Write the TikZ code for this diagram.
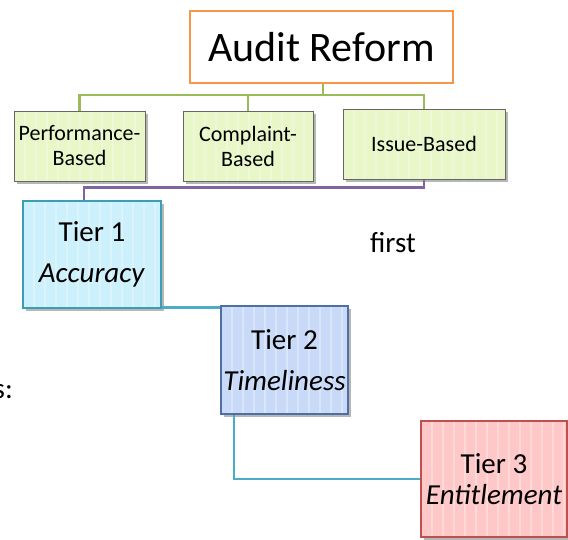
\documentclass[tikz,border=0pt]{standalone}
\usepackage{fontspec}
\setmainfont{Carlito}
\usetikzlibrary{shadows}
\definecolor{orangeb}{HTML}{F79646}
\definecolor{greenl}{HTML}{9BBB59}
\definecolor{purplel}{HTML}{8064A2}
\definecolor{cyanl}{HTML}{4BACC6}
\definecolor{greenf}{HTML}{E8F6C8}
\definecolor{tonef}{HTML}{CCF0FC}
\definecolor{ttwof}{HTML}{C9DAF8}
\definecolor{tthreef}{HTML}{FFC8C8}
\definecolor{tonedraw}{HTML}{3D9DB3}
\definecolor{ttwodraw}{HTML}{4F6FA0}
\definecolor{tthreedraw}{HTML}{C0504D}
\tikzset{
  stripes/.style={path picture={
    \foreach \i in {1,...,16}
      \draw[white,opacity=0.3,line width=2.5pt]
        ([xshift=\i*11pt]path picture bounding box.south west) --
        ([xshift=\i*11pt]path picture bounding box.north west);}},
  shad/.style={drop shadow={shadow xshift=3pt,shadow yshift=-3pt,opacity=0.4,fill=black!70}},
  catbox/.style={draw=gray!80!black,line width=1pt,fill=greenf,stripes,shad,
    align=center,inner sep=0pt,font=\fontsize{22}{25}\selectfont},
  tierbox/.style={line width=1.5pt,stripes,shad,align=center,inner sep=0pt,
    font=\fontsize{29}{41}\selectfont},
  gline/.style={draw=greenl,line width=2.6pt},
  pline/.style={draw=purplel,line width=2.6pt},
  cline/.style={draw=cyanl,line width=2.6pt},
}
\begin{document}
\begin{tikzpicture}[x=1pt,y=-1pt]
\useasboundingbox (0,0) rectangle (568,539);
\node[draw=orangeb,line width=2pt,fill=white,minimum width=263pt,minimum height=72pt,
  inner sep=0pt,font=\fontsize{42}{46}\selectfont] (audit) at (321.5,47) {Audit Reform};
\node[catbox,minimum width=131pt,minimum height=70pt] (perf) at (79.5,146) {Performance-\\Based};
\node[catbox,minimum width=130pt,minimum height=70pt] (comp) at (248,146) {Complaint-\\Based};
\node[catbox,minimum width=162pt,minimum height=70pt] (issue) at (424,144) {Issue-Based};
\node[tierbox,draw=tonedraw,fill=tonef,minimum width=138pt,minimum height=107pt] (tier1) at (92,254.5) {Tier 1\\\textit{Accuracy}};
\node[tierbox,draw=ttwodraw,fill=ttwof,minimum width=127pt,minimum height=108pt] (tier2) at (284.5,360) {Tier 2\\\textit{Timeliness}};
\node[tierbox,draw=tthreedraw,fill=tthreef,minimum width=146pt,minimum height=116pt,
  font=\fontsize{29}{31}\selectfont] (tier3) at (494,479) {Tier 3\\\textit{Entitlement}};
\node[font=\fontsize{29}{33}\selectfont,inner sep=0pt] (first) at (393,243) {first};
\node[font=\fontsize{29}{33}\selectfont,inner sep=0pt,anchor=east] (lefts) at (13,392) {s:};
% connectors
\draw[gline] ([xshift=1.5pt]audit.south) -- ++(0,11) -| (perf.north);
\draw[gline] ([xshift=1.5pt]audit.south) -- ++(0,11) -| (comp.north);
\draw[gline] ([xshift=1.5pt]audit.south) -- ++(0,11) -| (issue.north);
\draw[pline] (issue.south) -- ++(0,8) -| ([xshift=-8pt]tier1.north);
\draw[cline] ([yshift=1pt]tier1.south east) -- ([yshift=1pt]tier1.south east -| tier2.west);
\draw[cline] ([xshift=-50.5pt]tier2.south) |- (tier3.west);
\end{tikzpicture}
\end{document}
